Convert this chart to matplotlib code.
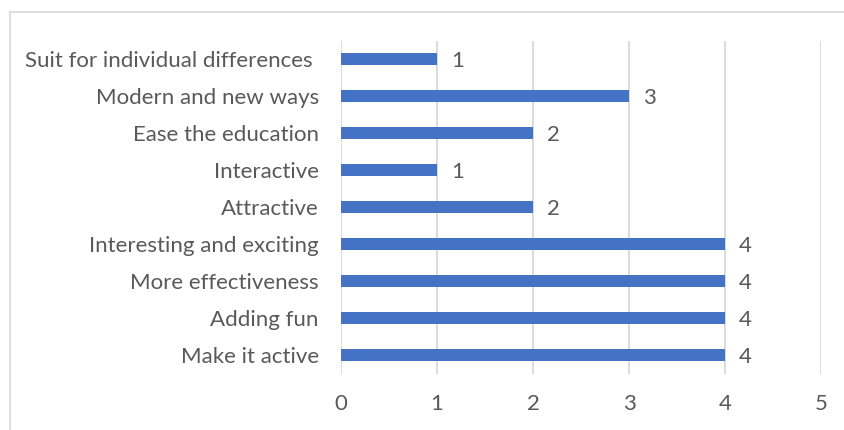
import matplotlib
matplotlib.use("Agg")
import matplotlib.pyplot as plt
from matplotlib.lines import Line2D

categories = [
    "Make it active",
    "Adding fun",
    "More effectiveness",
    "Interesting and exciting",
    "Attractive",
    "Interactive",
    "Ease the education",
    "Modern and new ways",
    "Suit for individual differences ",
]
values = [4, 4, 4, 4, 2, 1, 2, 3, 1]
x_ticks = [0, 1, 2, 3, 4, 5]

plt.rcParams["font.family"] = ["Lato", "DejaVu Sans"]
text_color = "#595959"
grid_color = "#d9d9d9"
bar_color = "#4472c4"
fs = 16

W, H = 845, 430
fig = plt.figure(figsize=(W / 100, H / 100), dpi=100)
ax = fig.add_axes([341 / W, 1 - 373.5 / H, (821 - 341) / W, (373.5 - 40.5) / H])

ypos = list(range(len(categories)))
ax.barh(ypos, values, height=0.35, color=bar_color, zorder=3)
for y, v in zip(ypos, values):
    ax.annotate(str(v), (v, y), xytext=(10, 0), textcoords="offset points",
                va="center_baseline", ha="left", fontsize=fs, color=text_color)

ax.set_xlim(0, 5)
ax.set_ylim(-0.5, len(categories) - 0.5)
ax.set_xticks(x_ticks)
ax.set_xticklabels([str(t) for t in x_ticks])
ax.set_yticks(ypos)
ax.set_yticklabels(categories)
ax.tick_params(axis="both", length=0, labelsize=fs, colors=text_color)
ax.tick_params(axis="x", pad=15)
ax.tick_params(axis="y", pad=16)
ax.xaxis.grid(True, color=grid_color, linewidth=1.3, zorder=0)
for s in ax.spines.values():
    s.set_visible(False)

# chart area border (partially out of frame)
fig.add_artist(Line2D([10 / W, 10 / W], [0, 1 - 12 / H], transform=fig.transFigure,
                      color=grid_color, linewidth=1.2))
fig.add_artist(Line2D([10 / W, 1], [1 - 12 / H, 1 - 12 / H], transform=fig.transFigure,
                      color=grid_color, linewidth=1.2))

fig.savefig("out.png", dpi=100)
